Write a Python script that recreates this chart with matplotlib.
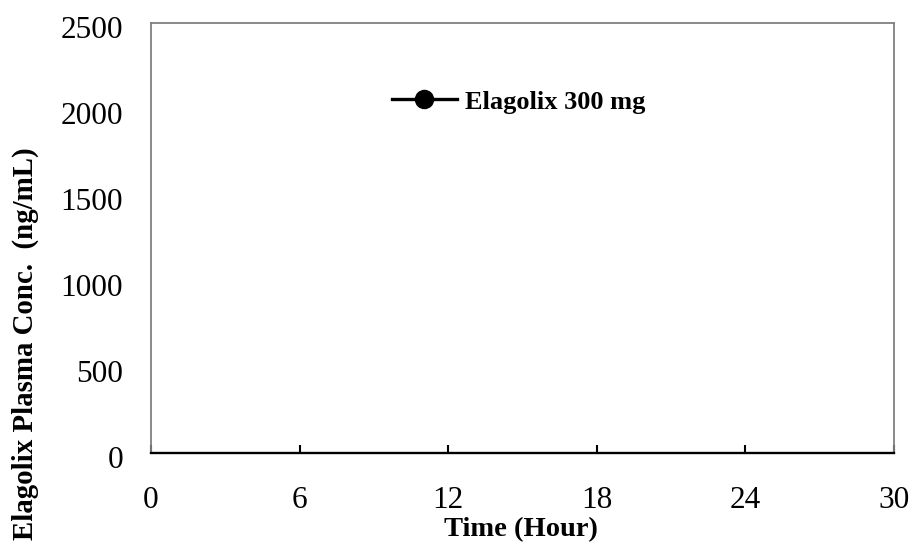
import matplotlib
matplotlib.use("Agg")
import matplotlib.pyplot as plt
from matplotlib.transforms import ScaledTranslation

# Elagolix 300 mg plasma concentration profile (no samples plotted)
time_hours = []
conc_ng_ml = []
series_label = "Elagolix 300 mg"

x_ticks = [0, 6, 12, 18, 24, 30]
y_ticks = [0, 500, 1000, 1500, 2000, 2500]

plt.rcParams["font.family"] = ["Liberation Serif", "DejaVu Serif"]

W, H = 913, 542
fig = plt.figure(figsize=(W / 100, H / 100), dpi=100)
ax = fig.add_axes([151 / W, 1 - 453 / H, 743 / W, 430 / H])

ax.plot(time_hours, conc_ng_ml, color="black", linewidth=2.4,
        marker="o", markersize=13, label=series_label)

ax.set_xlim(0, 30)
ax.set_ylim(0, 2500)
ax.set_xticks(x_ticks)
ax.set_yticks(y_ticks)
ax.tick_params(axis="x", direction="in", length=6, width=1.5, color="black",
               labelsize=22.5, pad=24)
ax.tick_params(axis="y", length=0, labelsize=22.5, pad=20)

# value labels sit slightly below their gridline level
shift = ScaledTranslation(0, -4.5 / 100, fig.dpi_scale_trans)
for lab in ax.get_yticklabels():
    lab.set_transform(lab.get_transform() + shift)

for side in ("left", "top", "right"):
    ax.spines[side].set_color("#808080")
    ax.spines[side].set_linewidth(1.3)
ax.spines["bottom"].set_color("black")
ax.spines["bottom"].set_linewidth(1.7)

fig.text(444 / W, 1 - 536 / H, "Time (Hour)", ha="left", va="baseline",
         fontsize=20.5, fontweight="bold")
fig.text(25 / W, 1 - 343.5 / H, "Elagolix Plasma Conc.  (ng/mL)",
         ha="center", va="center", rotation=90, fontsize=20.8, fontweight="bold")

ax.legend(loc="center left", bbox_to_anchor=((392 - 151) / 743, (453 - 102) / 430),
          frameon=False, borderpad=0, borderaxespad=0, handlelength=2.45,
          handletextpad=0.3, prop={"size": 19, "weight": "bold"})

fig.savefig("out.png", dpi=100)
